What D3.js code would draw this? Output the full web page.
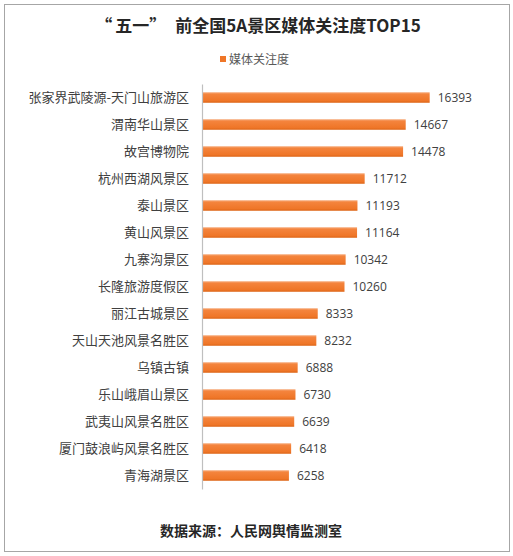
<!DOCTYPE html>
<html lang="zh">
<head>
<meta charset="UTF-8">
<script src="https://d3js.org/d3.v7.min.js"></script>
<style>
  body { margin: 0; background: #fff; }
  text { font-family: "Noto Sans CJK SC", "Noto Sans", sans-serif; }
</style>
</head>
<body>
<svg id="chart" width="513" height="556"></svg>
<script>
const spots = ["张家界武陵源-天门山旅游区", "渭南华山景区", "故宫博物院", "杭州西湖风景区", "泰山景区",
  "黄山风景区", "九寨沟景区", "长隆旅游度假区", "丽江古城景区", "天山天池风景名胜区",
  "乌镇古镇", "乐山峨眉山景区", "武夷山风景名胜区", "厦门鼓浪屿风景名胜区", "青海湖景区"];
const attention = [16393, 14667, 14478, 11712, 11193, 11164, 10342, 10260, 8333, 8232, 6888, 6730, 6639, 6418, 6258];

const svg = d3.select("#chart");

// outer frame
svg.append("rect")
  .attr("x", 4.5).attr("y", 4.5)
  .attr("width", 505).attr("height", 547)
  .attr("fill", "#fff").attr("stroke", "#a6a6a6").attr("stroke-width", 1);

const defs = svg.append("defs");
const grad = defs.append("linearGradient")
  .attr("id", "barGrad").attr("x1", 0).attr("y1", 0).attr("x2", 0).attr("y2", 1);
grad.append("stop").attr("offset", "0%").attr("stop-color", "#f7b083");
grad.append("stop").attr("offset", "18%").attr("stop-color", "#f4843d");
grad.append("stop").attr("offset", "80%").attr("stop-color", "#ef7628");
grad.append("stop").attr("offset", "100%").attr("stop-color", "#dc6517");

// title (quotes spaced to look full-width)
const title = svg.append("text")
  .attr("x", 258).attr("y", 32)
  .attr("text-anchor", "middle")
  .attr("font-size", 17).attr("font-weight", "bold").attr("fill", "#262626");
title.append("tspan").text("“");
title.append("tspan").attr("dx", 3).text("五一");
title.append("tspan").text("”");
title.append("tspan").attr("dx", 9).text("前全国5A景区媒体关注度TOP15");

// legend
svg.append("rect").attr("x", 220).attr("y", 56).attr("width", 6).attr("height", 6).attr("fill", "#ef7628");
svg.append("text")
  .attr("x", 229).attr("y", 64)
  .attr("font-size", 12).attr("fill", "#595959")
  .text("媒体关注度");

const x = d3.scaleLinear().domain([0, 18000]).range([202, 452]);
const y = d3.scaleBand().domain(spots).range([84, 489]).paddingInner(0.61).paddingOuter(0.305);

svg.selectAll("rect.bar")
  .data(spots)
  .join("rect")
  .attr("class", "bar")
  .attr("x", x(0))
  .attr("y", d => y(d))
  .attr("width", (d, i) => x(attention[i]) - x(0))
  .attr("height", y.bandwidth())
  .attr("fill", "url(#barGrad)");

// category axis
const yAxis = svg.append("g")
  .attr("transform", `translate(${x(0)},0)`)
  .call(d3.axisLeft(y).tickSize(0).tickPadding(13));
yAxis.select(".domain").attr("stroke", "#bfbfbf").attr("stroke-width", 1.2);
yAxis.selectAll("text")
  .attr("font-size", 13).attr("fill", "#404040")
  .style("font-family", "'Noto Sans CJK SC', sans-serif");

svg.selectAll("text.val")
  .data(spots)
  .join("text")
  .attr("class", "val")
  .attr("x", (d, i) => x(attention[i]) + 8)
  .attr("y", d => y(d) + y.bandwidth() / 2)
  .attr("dy", "0.36em")
  .attr("font-size", 12).attr("fill", "#404040")
  .style("font-family", "'Open Sans', sans-serif")
  .text((d, i) => attention[i]);

// source
svg.append("text")
  .attr("x", 251).attr("y", 536)
  .attr("text-anchor", "middle")
  .attr("font-size", 14).attr("font-weight", "bold").attr("fill", "#262626")
  .text("数据来源：人民网舆情监测室");
</script>
</body>
</html>
